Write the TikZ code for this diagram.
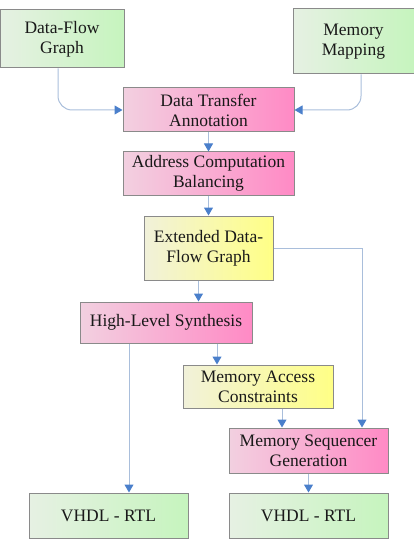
\documentclass[tikz,border=0pt]{standalone}
\usepackage{fontspec}
\setmainfont{Liberation Serif}
\usetikzlibrary{arrows.meta,positioning}

\definecolor{boxgray}{HTML}{8A8A8A}
\definecolor{grnL}{HTML}{E6F1E3}
\definecolor{grnR}{HTML}{C6F4BE}
\definecolor{pnkL}{HTML}{F2D0E0}
\definecolor{pnkR}{HTML}{FF8AC5}
\definecolor{ylwL}{HTML}{F1F1DA}
\definecolor{ylwR}{HTML}{FFFF86}
\definecolor{lineblue}{HTML}{A9BEDB}
\definecolor{tipblue}{HTML}{4A7FCB}

\tikzset{
  box/.style={draw=boxgray, line width=1pt, inner sep=0pt, align=center,
    text=black!90, font=\fontsize{17.5}{20}\selectfont},
  greenbox/.style={box, left color=grnL, right color=grnR},
  pinkbox/.style={box, left color=pnkL, right color=pnkR},
  yellowbox/.style={box, left color=ylwL, right color=ylwR},
  flow/.style={draw=lineblue, line width=1pt,
    -{Triangle[width=9pt,length=8pt,color=tipblue]}}
}

\begin{document}
\begin{tikzpicture}[x=1pt,y=1pt,on grid]
        \useasboundingbox (0,0) rectangle (414,-548);
        \node[greenbox, minimum width=124pt, minimum height=58pt] (dfg) at (62,-39) {Data-Flow\\Graph};
        \node[greenbox, minimum width=121pt, minimum height=65pt] (mm) [below right=2.5pt and 291.5pt of dfg] {Memory\\Mapping};
        \node[pinkbox, minimum width=171pt, minimum height=44pt] (dta) [below right=71pt and 146.5pt of dfg] {Data Transfer\\Annotation};
        \node[pinkbox, minimum width=171pt, minimum height=43pt] (acb) [below=63.5pt of dta] {Address Computation\\Balancing};
        \node[yellowbox, minimum width=129pt, minimum height=64pt] (edfg) [below=74.5pt of acb] {Extended Data-\\Flow Graph};
        \node[pinkbox, minimum width=172pt, minimum height=41pt] (hls) [below left=74.5pt and 42.5pt of edfg] {High-Level Synthesis};
        \node[yellowbox, minimum width=150pt, minimum height=43pt] (mac) [below right=64pt and 92pt of hls] {Memory Access\\Constraints};
        \node[pinkbox, minimum width=159pt, minimum height=45pt] (msg) [below right=64pt and 50.5pt of mac] {Memory Sequencer\\Generation};
        \node[greenbox, minimum width=159pt, minimum height=45pt] (rtl_b) [below=65pt of msg] {VHDL - RTL};
        \node[greenbox, minimum width=159pt, minimum height=45pt] (rtl_a) [left=200pt of rtl_b] {VHDL - RTL};

        % inputs into the annotation step
        \draw[flow, rounded corners=14pt] ([xshift=-4pt]dfg.south) |- (dta.west);
        \draw[flow, rounded corners=14pt] ([xshift=7.5pt]mm.south) |- (dta.east);
        \draw[flow] (edfg.east) -| ([xshift=53.5pt]msg.north);
        \path
            (dta) edge[flow] (acb)
            (acb) edge[flow] (edfg)
            ([xshift=-10pt]edfg.south) edge[flow] ([xshift=-10pt]edfg.south |- hls.north)
            ([xshift=51pt]hls.south) edge[flow] ([xshift=51pt]hls.south |- mac.north)
            ([xshift=-37pt]hls.south) edge[flow] ([xshift=-37pt]hls.south |- rtl_a.north)
            ([xshift=24pt]mac.south) edge[flow] ([xshift=24pt]mac.south |- msg.north)
            (msg) edge[flow] (rtl_b);
\end{tikzpicture}
\end{document}
